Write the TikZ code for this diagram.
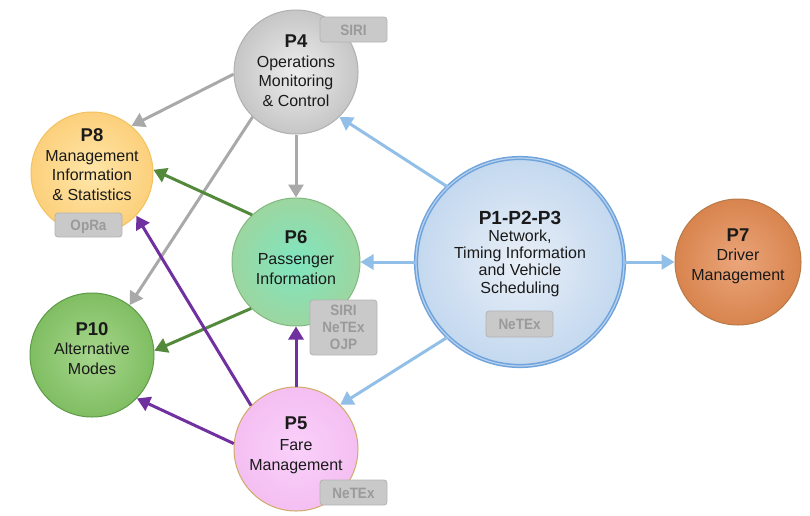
\documentclass[tikz,border=0pt]{standalone}
\usepackage{fontspec}
\setmainfont{Liberation Sans}
\newfontfamily\tagfamily[FakeStretch=0.9]{Liberation Sans}
\usetikzlibrary{arrows.meta}
\definecolor{graya}{HTML}{A9A9A9}
\definecolor{greena}{HTML}{52893A}
\definecolor{purplea}{HTML}{7030A0}
\definecolor{bluea}{HTML}{92BFE8}
\definecolor{tagfill}{HTML}{C9C9C9}
\definecolor{tagline}{HTML}{B3B3B3}
\definecolor{tagtext}{HTML}{9A9A9A}
\definecolor{txt}{HTML}{1A1A1A}
\definecolor{p4in}{HTML}{EDEDED}\definecolor{p4out}{HTML}{C6C6C6}\definecolor{p4ln}{HTML}{B0B0B0}
\definecolor{p8in}{HTML}{FFE6A8}\definecolor{p8out}{HTML}{FCD07C}\definecolor{p8ln}{HTML}{F2C25E}
\definecolor{p6in}{HTML}{7FE6C0}\definecolor{p6out}{HTML}{9CD6A0}\definecolor{p6ln}{HTML}{80B880}
\definecolor{p10in}{HTML}{A6D68C}\definecolor{p10out}{HTML}{80BE62}\definecolor{p10ln}{HTML}{5E9A47}
\definecolor{p5in}{HTML}{FAD0FA}\definecolor{p5out}{HTML}{F4BFF2}\definecolor{p5ln}{HTML}{D2AA66}
\definecolor{p7in}{HTML}{EBA57A}\definecolor{p7out}{HTML}{D8844E}\definecolor{p7ln}{HTML}{B77A48}
\definecolor{p1in}{HTML}{E9EFF7}\definecolor{p1out}{HTML}{C3D8EF}\definecolor{p1ln}{HTML}{6FA3DC}\definecolor{p1dbl}{HTML}{B8D2EE}
\begin{document}
\begin{tikzpicture}[x=1pt,y=-1pt,
  proc/.style={circle, inner sep=0pt, line width=1pt},
  ptext/.style={align=center, anchor=base, text=txt, inner sep=0pt,
    font=\fontsize{16}{19.5}\selectfont},
  tagbox/.style={draw=tagline, fill=tagfill, rounded corners=3pt, line width=0.8pt,
    minimum width=67pt, inner sep=0pt, text=tagtext,
    font=\tagfamily\bfseries\fontsize{15}{17}\selectfont},
  conn/.style={line width=3pt, -{Triangle[length=13pt,width=15pt]}},
]
\useasboundingbox (0,0) rectangle (810,515);

% process circles
\node[proc, minimum size=124pt, draw=p4ln, inner color=p4in, outer color=p4out] (p4) at (296,72) {};
\node[proc, minimum size=122pt, draw=p8ln, inner color=p8in, outer color=p8out] (p8) at (92,173) {};
\node[proc, minimum size=128pt, draw=p6ln, inner color=p6in, outer color=p6out] (p6) at (296,262) {};
\node[proc, minimum size=124pt, draw=p10ln, inner color=p10in, outer color=p10out] (p10) at (92,355) {};
\node[proc, minimum size=124pt, draw=p5ln, inner color=p5in, outer color=p5out] (p5) at (296,449) {};
\node[proc, minimum size=126pt, draw=p7ln, inner color=p7in, outer color=p7out] (p7) at (738,262) {};
\node[proc, minimum size=208pt, draw=p1ln, line width=1.5pt, double=p1dbl, double distance=1.2pt, inner color=p1in, outer color=p1out] (p1) at (520,262) {};

% connectors
\draw[conn, graya] (p4.182) -- (p8.50);
\draw[conn, graya] (p4.226) -- (p10.53);
\draw[conn, graya] (p4.270) -- (p6.90);
\draw[conn, greena] (p6.133) -- (p8.3);
\draw[conn, greena] (p6.226) -- (p10.4);
\draw[conn, purplea] (p5.136) -- (p8.316);
\draw[conn, purplea] (p5.90) -- (p6.270);
\draw[conn, purplea] (p5.175) -- (p10.316);
\draw[conn, bluea] (p1.134) -- (p4.314);
\draw[conn, bluea] (p1.180) -- (p6.0);
\draw[conn, bluea] (p1.226) -- (p5.45);
\draw[conn, bluea] (p1.0) -- (p7.180);

% texts (anchor base = baseline of last line)
\node[ptext] (t4) at (296,106) {{\fontsize{18.5}{19.5}\selectfont\bfseries P4}\\Operations\\Monitoring\\\& Control};
\node[ptext] (t8) at (92,200) {{\fontsize{18.5}{19.5}\selectfont\bfseries P8}\\Management\\Information\\\& Statistics};
\node[ptext] (t6) at (296,284) {{\fontsize{18.5}{19.5}\selectfont\bfseries P6}\\[1.5pt]Passenger\\Information};
\node[ptext] (t10) at (92,374) {{\fontsize{18.5}{19.5}\selectfont\bfseries P10}\\Alternative\\Modes};
\node[ptext] (t5) at (296,470) {{\fontsize{18.5}{19.5}\selectfont\bfseries P5}\\[2pt]Fare\\Management};
\node[ptext] (t7) at (738,280) {{\fontsize{18.5}{19.5}\selectfont\bfseries P7}\\Driver\\Management};
\node[ptext, font=\fontsize{16}{17.2}\selectfont] (t1) at (520,293) {{\fontsize{19}{17}\selectfont\bfseries P1-P2-P3}\\Network,\\Timing Information\\and Vehicle\\Scheduling};

% tags
\node[tagbox, minimum height=25pt, text height=11pt, text depth=0pt] (g4) at (353.5,29.5) {SIRI};
\node[tagbox, minimum height=24pt, text height=11pt, text depth=0pt] (g8) at (88.5,225) {OpRa};
\node[tagbox, minimum height=55pt, align=center] (g6) at (343.5,327.5) {SIRI\\NeTEx\\OJP};
\node[tagbox, minimum height=26pt, text height=11pt, text depth=0pt] (g1) at (519.5,324) {NeTEx};
\node[tagbox, minimum height=25pt, text height=11pt, text depth=0pt] (g5) at (353.5,492.5) {NeTEx};
\end{tikzpicture}
\end{document}
